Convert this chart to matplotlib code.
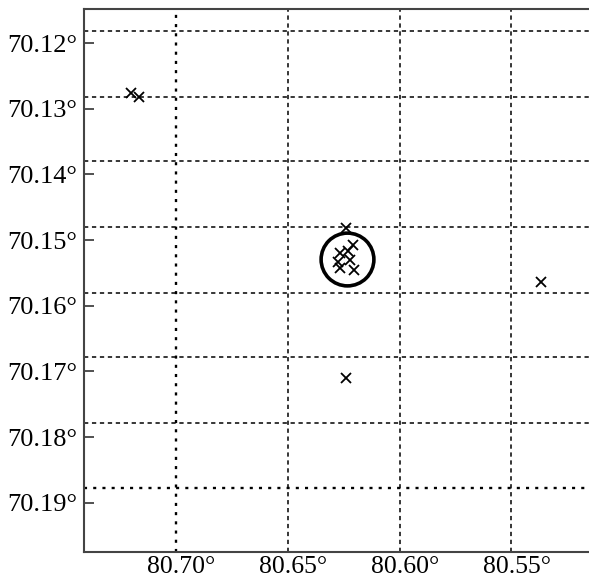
import numpy as np
import matplotlib
matplotlib.use("Agg")
from matplotlib import pyplot as plt

# event locations (lon, lat)
lon_pts = [80.7227, 80.7188, 80.6264, 80.6232, 80.6290, 80.6255, 80.6299,
           80.6246, 80.6290, 80.6228, 80.6264, 80.5391]
lat_pts = [70.12766, 70.12814, 70.14823, 70.15075, 70.15196, 70.15166, 70.15333,
           70.15303, 70.15425, 70.15455, 70.17099, 70.15638]

# circled station
circ_lon = [80.6257]
circ_lat = [70.1528]

# grid lines (offset from the ticks in the original)
grid_lat = [70.11817, 70.12822, 70.13796, 70.14801, 70.15805, 70.16779, 70.17784, 70.18773]
grid_lon = [80.70246, 80.65219, 80.6022, 80.55264]

xticks = [80.70, 80.65, 80.60, 80.55]
yticks = [70.12, 70.13, 70.14, 70.15, 70.16, 70.17, 70.18, 70.19]

plt.rcParams['font.family'] = ['Liberation Serif', 'DejaVu Serif']

fig = plt.figure(figsize=(5.89, 5.82), dpi=100)
ax = fig.add_axes([84/589, 30/582, 1 - 84/589, (552 - 9)/582])

dash = (0, (2.8, 2.4))
dot = (0, (1.3, 2.6))
for i, g in enumerate(grid_lat):
    if i == len(grid_lat) - 1:
        ax.axhline(g, color='k', lw=1.7, ls=dot, zorder=1)
    else:
        ax.axhline(g, color='k', lw=1.1, ls=dash, zorder=1)
for i, g in enumerate(grid_lon):
    if i == 0:
        ax.axvline(g, color='k', lw=1.7, ls=dot, zorder=1)
    else:
        ax.axvline(g, color='k', lw=1.1, ls=dash, zorder=1)

ax.plot(lon_pts, lat_pts, 'x', color='k', ms=7.5, mew=1.3, zorder=3)
ax.plot(circ_lon, circ_lat, 'o', mfc='none', mec='k', ms=38, mew=2.6, zorder=3)

ax.set_xlim(80.7436, 80.5176)
ax.set_ylim(70.1975, 70.1148)

ax.set_xticks(xticks)
ax.set_xticklabels(['%.2f°' % v for v in xticks])
ax.set_yticks(yticks)
ax.set_yticklabels(['%.2f°' % v for v in yticks])

ax.tick_params(axis='y', direction='in', length=7, width=1.2, labelsize=19, pad=5, color='#333333')
ax.tick_params(axis='x', length=0, labelsize=18.5, pad=3)

for s in ['left', 'top', 'bottom']:
    ax.spines[s].set_linewidth(1.5)
    ax.spines[s].set_color('#444444')
ax.spines['right'].set_visible(False)

fig.savefig('out.png', dpi=100)
